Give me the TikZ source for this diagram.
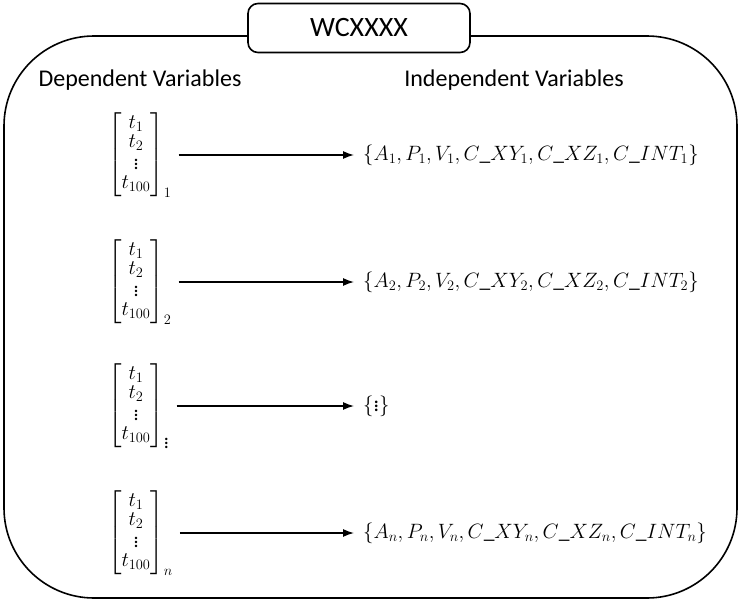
\documentclass[tikz,border=0pt]{standalone}
\usepackage{amsmath,amssymb}
\usepackage{fontspec}
\setmainfont{Carlito}
\usetikzlibrary{arrows.meta}

\begin{document}
\begin{tikzpicture}[x=1pt,y=-1pt,
  frame/.style={line width=1.6pt,rounded corners=90pt},
  titlebox/.style={draw,line width=1.6pt,fill=white,rounded corners=10pt,
    minimum width=222pt,minimum height=49pt,font=\fontsize{28}{32}\selectfont},
  header/.style={font=\fontsize{24}{28}\selectfont},
  vecnode/.style={anchor=west,inner sep=2pt,font=\fontsize{20}{24}\selectfont},
  setnode/.style={anchor=west,inner sep=5pt,font=\fontsize{21.5}{26}\selectfont},
  maparrow/.style={line width=1.3pt,-{Latex[length=11pt,width=8pt]},shorten <=5pt,shorten >=4pt}]
\useasboundingbox (0,0) rectangle (740,600);
% outer frame
\draw[frame] (4,598) -- (4,36) -- (737,36) -- (737,598) -- cycle;
\node[titlebox] (title) at (359,28) {WCXXXX};
\node[header] (dep) at (140,80) {Dependent Variables};
\node[header] (indep) at (514,80) {Independent Variables};
% rows
\foreach \i/\y/\s/\rhs in {1/155/1/{\{A_1,P_1,V_1,C\_XY_1,C\_XZ_1,C\_INT_1\}},
    2/282/2/{\{A_2,P_2,V_2,C\_XY_2,C\_XZ_2,C\_INT_2\}},
    3/406/\vdots/{\{\vdots\}},
    4/533/n/{\{A_n,P_n,V_n,C\_XY_n,C\_XZ_n,C\_INT_n\}}}{
  \node[vecnode] (vec\i) at (106,\y)
    {$\renewcommand{\arraystretch}{0.8}\begin{bmatrix} t_1\\ t_2\\ \vdots\\ t_{100}\end{bmatrix}_{\s}$};
  \node[setnode] (set\i) at (358,\y) {$\rhs$};
  \draw[maparrow] (vec\i.east) -- (set\i.west);
}
\end{tikzpicture}
\end{document}
